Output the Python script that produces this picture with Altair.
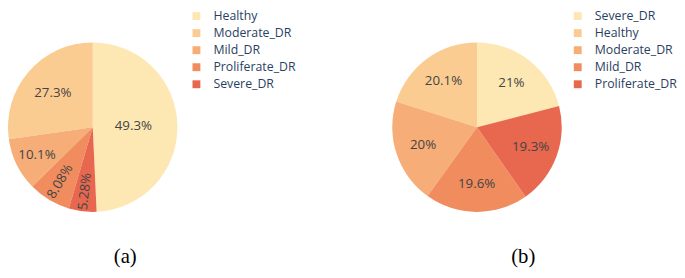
import altair as alt
import pandas as pd

categories_a = ["Healthy", "Moderate_DR", "Mild_DR", "Proliferate_DR", "Severe_DR"]
values_a = [49.3, 27.3, 10.1, 8.08, 5.28]

categories_b = ["Severe_DR", "Healthy", "Moderate_DR", "Mild_DR", "Proliferate_DR"]
values_b = [21, 20.1, 20, 19.6, 19.3]

colors = ["#fde8b3", "#fbcc92", "#f6ad77", "#f08c5e", "#e8684f"]

R = 86


def pie(cats, vals, caption, legend_offset, title_dx):
    df = pd.DataFrame({"cat": cats, "v": vals})
    base = (
        alt.Chart(df)
        .transform_joinaggregate(vmax="max(v)", total="sum(v)")
        .transform_calculate(k="datum.v == datum.vmax ? 0 : datum.v")
        .transform_window(cum="sum(v)", sort=[alt.SortField("k")])
        .transform_calculate(
            mid="(datum.cum - datum.v / 2) / datum.total * 360",
            r=f"{R} * (0.8 - 0.0065 * datum.v)",
            label="datum.v + '%'",
        )
        .transform_calculate(
            ang="datum.v < 9 ? (datum.mid + 90) % 360 : 0",
            midrad="datum.mid * PI / 180",
        )
    )
    arcs = base.mark_arc().encode(
        theta=alt.Theta("v:Q", stack=True),
        color=alt.Color(
            "cat:N",
            title=None,
            scale=alt.Scale(domain=cats, range=colors),
            legend=alt.Legend(
                orient="right",
                offset=legend_offset,
                symbolType="square",
                symbolSize=64,
                symbolStrokeWidth=0,
                labelFont="Open Sans",
                labelFontSize=12.5,
                labelColor="#2a3f5f",
                labelOffset=11,
                rowPadding=4.3,
                padding=0,
            ),
        ),
        order=alt.Order("k:Q"),
    )
    text = base.mark_text(font="Open Sans", fontSize=13.5, color="#444444").encode(
        theta=alt.Theta("midrad:Q", scale=None),
        radius=alt.Radius("r:Q", scale=None),
        angle=alt.Angle("ang:Q", scale=None),
        text="label:N",
    )
    return alt.layer(arcs, text).properties(
        width=2 * R,
        height=238,
        title=alt.TitleParams(
            caption,
            orient="bottom",
            font="Liberation Serif",
            fontSize=21,
            fontWeight="normal",
            color="black",
            frame="group",
            anchor="middle",
            dx=title_dx,
            offset=2,
        ),
    )


pa = pie(categories_a, values_a, "(a)", 13, 33)
pb = pie(categories_b, values_b, "(b)", 10, 47)

chart = (
    alt.hconcat(pa, pb, spacing=98)
    .resolve_scale(color="independent")
    .resolve_legend(color="independent")
    .properties(padding=0)
    .configure_view(strokeWidth=0)
)

chart.save("out.html", embed_options={"renderer": "svg", "actions": False})
